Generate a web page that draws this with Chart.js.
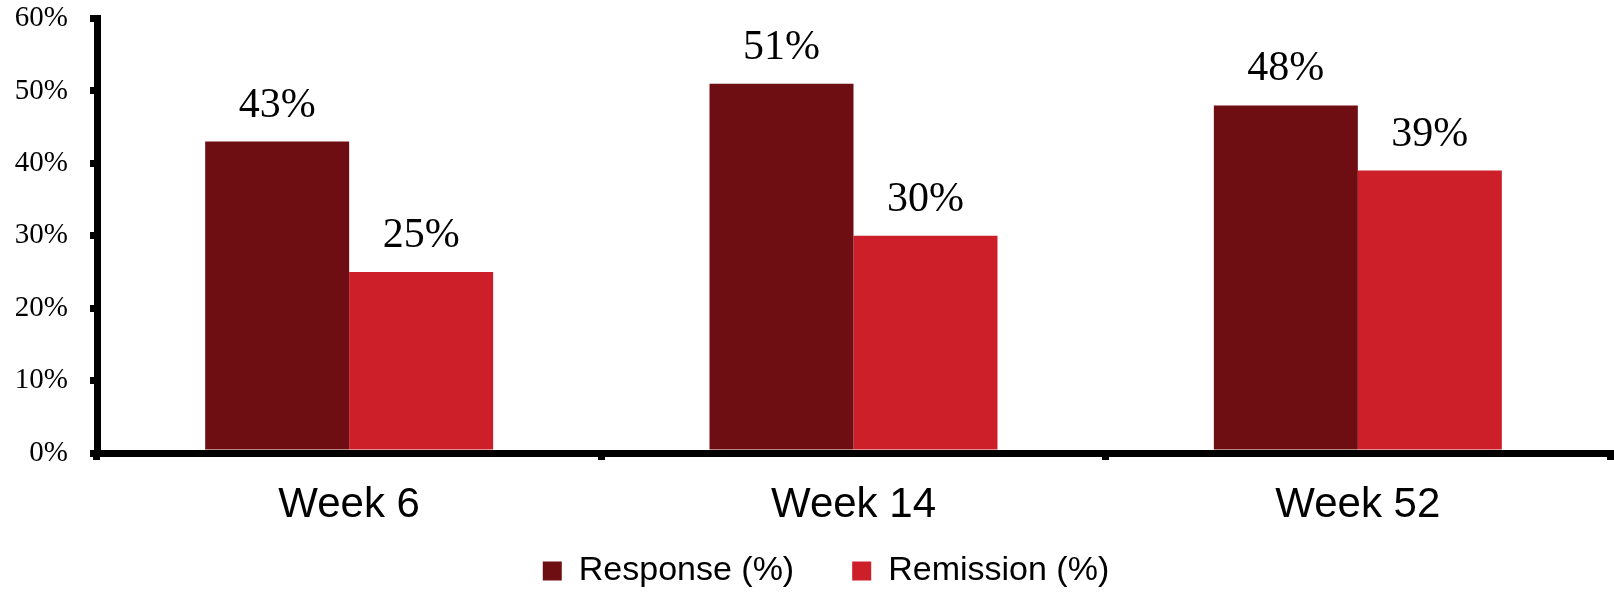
<!DOCTYPE html>
<html>
<head>
<meta charset="utf-8">
<script src="https://cdn.jsdelivr.net/npm/chart.js@4/dist/chart.umd.min.js"></script>
<style>
  html, body { margin: 0; padding: 0; background: #fff; }
  #wrap { width: 1614px; height: 594px; position: relative; }
</style>
</head>
<body>
<div id="wrap"><canvas id="c" width="1614" height="594"></canvas></div>
<script>
// Categories and series values (percent)
const categories = ['Week 6', 'Week 14', 'Week 52'];
const responseValues = [43, 51, 48];
const remissionValues = [25, 30, 39];
const seriesNames = ['Response (%)', 'Remission (%)'];
const yTicks = [0, 10, 20, 30, 40, 50, 60];

const DARK_RED = '#6E0E12';
const RED = '#CC1F29';

// Value labels above each bar
const valueLabels = {
  id: 'valueLabels',
  afterDatasetsDraw(chart) {
    const ctx = chart.ctx;
    ctx.save();
    ctx.font = '42px "Liberation Serif", "Times New Roman", serif';
    ctx.fillStyle = '#000';
    ctx.textAlign = 'center';
    ctx.textBaseline = 'alphabetic';
    chart.data.datasets.forEach((ds, i) => {
      const meta = chart.getDatasetMeta(i);
      meta.data.forEach((bar, j) => {
        ctx.fillText(ds.data[j] + '%', bar.x, bar.y - 25);
      });
    });
    ctx.restore();
  }
};

// Final layout tweaks: plot top edge, legend row position
const layoutTweaks = {
  id: 'layoutTweaks',
  afterLayout(chart) {
    const TOP = 18.5;
    const y = chart.scales.y;
    y.top = TOP;
    y.height = y.bottom - TOP;
    y.configure();
    chart.chartArea.top = TOP;
    chart.chartArea.height = chart.chartArea.bottom - TOP;

    const lg = chart.legend;
    if (!lg) return;
    const pad = lg.options.labels.padding;
    const dx = 21;
    lg.left += dx; lg.right += dx;
    lg.top = 554 - pad;
    lg.bottom = 594;
  }
};

new Chart(document.getElementById('c'), {
  type: 'bar',
  data: {
    labels: categories,
    datasets: [
      { label: seriesNames[0], data: responseValues, backgroundColor: DARK_RED },
      { label: seriesNames[1], data: remissionValues, backgroundColor: RED }
    ]
  },
  options: {
    responsive: false,
    animation: false,
    devicePixelRatio: 1,
    layout: { padding: { top: 0, right: 4, left: 0, bottom: 0 } },
    datasets: {
      bar: { categoryPercentage: 0.571, barPercentage: 1.0 }
    },
    scales: {
      x: {
        grid: { display: true, drawOnChartArea: false, drawTicks: true, tickLength: 7, lineWidth: 7, color: '#000', offset: true },
        border: { display: true, width: 7, color: '#000' },
        ticks: {
          color: '#000',
          padding: 20,
          font: { family: '"Liberation Sans", Arial, sans-serif', size: 42 }
        },
        afterFit(scale) { scale.height = 90; }
      },
      y: {
        min: 0,
        max: 60,
        afterBuildTicks(scale) { scale.ticks = yTicks.map(v => ({ value: v })); },
        grid: { display: true, drawOnChartArea: false, drawTicks: true, tickLength: 7, lineWidth: 7, color: '#000' },
        border: { display: true, width: 7, color: '#000' },
        ticks: {
          color: '#000',
          padding: 22,
          font: { family: '"Liberation Serif", "Times New Roman", serif', size: 29 },
          callback: v => v + '%'
        },
        afterFit(scale) { scale.width = 97; }
      }
    },
    plugins: {
      legend: {
        position: 'bottom',
        maxHeight: 51,
        labels: {
          color: '#000',
          boxWidth: 19,
          boxHeight: 19,
          padding: 58,
          font: { family: '"Liberation Sans", Arial, sans-serif', size: 34 }
        }
      },
      tooltip: { enabled: false }
    }
  },
  plugins: [valueLabels, layoutTweaks]
});
</script>
</body>
</html>
